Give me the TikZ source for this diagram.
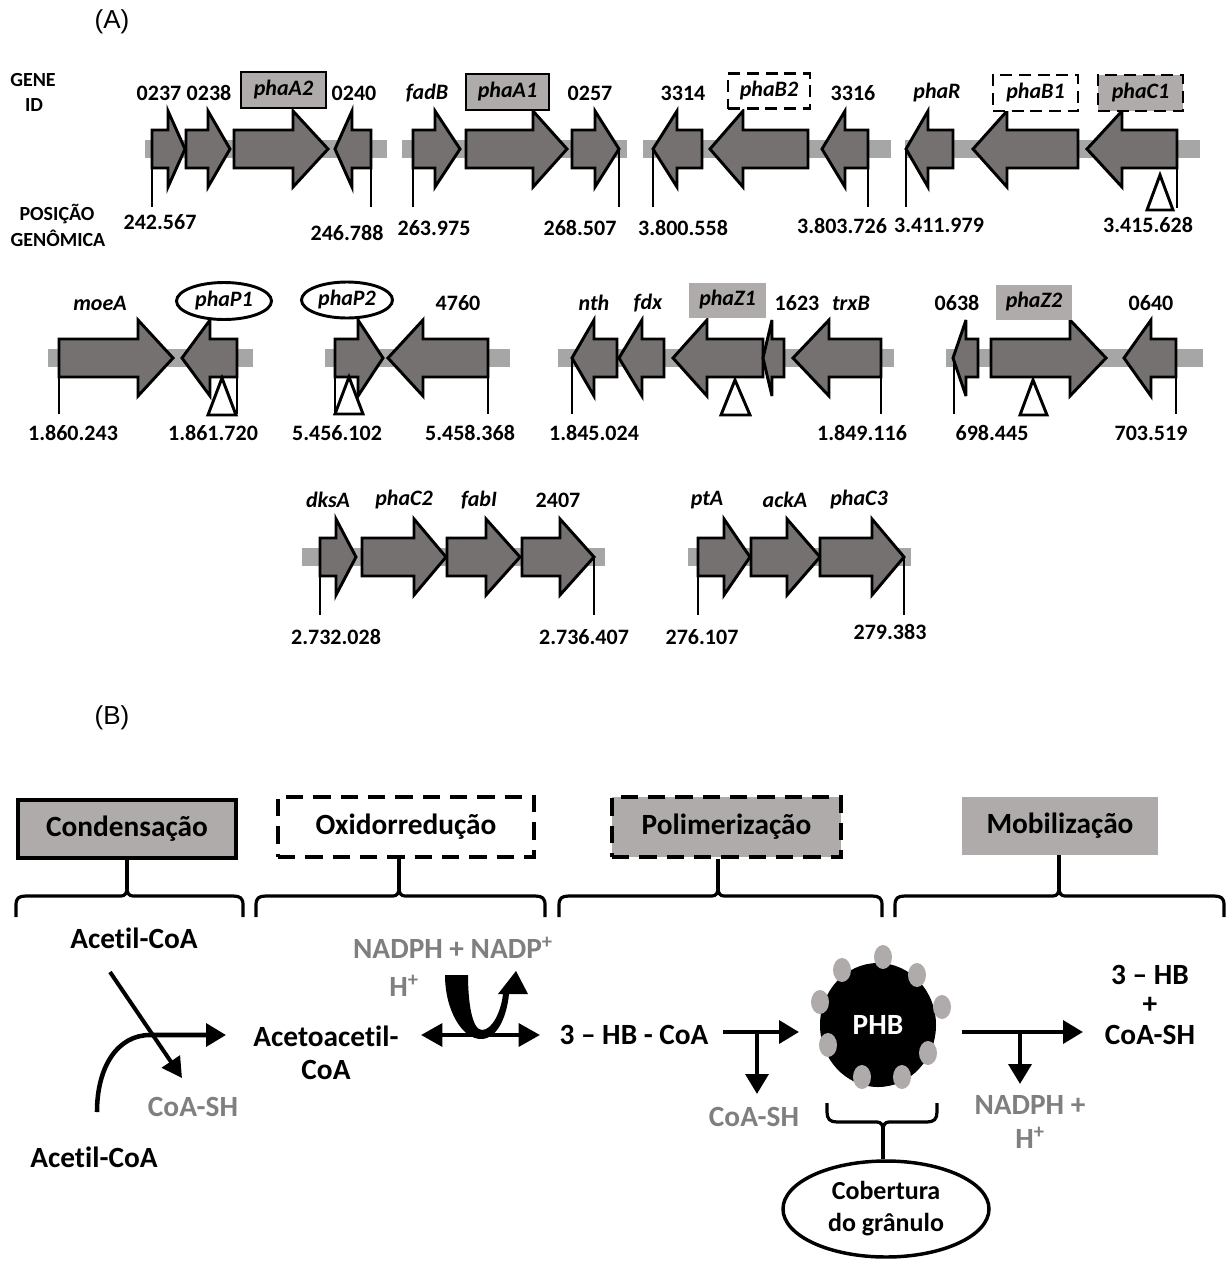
\documentclass[tikz,border=0pt]{standalone}
\usepackage{fontspec}
\setmainfont{Carlito}[RawFeature={-liga;-clig}]
\newfontfamily\arialf{Liberation Sans}
\usetikzlibrary{arrows.meta,shapes.geometric}
\definecolor{genefill}{HTML}{767171}
\definecolor{barcol}{HTML}{A6A6A6}
\definecolor{boxgray}{HTML}{AFABAB}
\definecolor{txtgray}{HTML}{7F7F7F}
\newcommand{\geneR}[4]{\draw[genearrow] (#1,{#4-19}) -- (#2,{#4-19}) -- (#2,{#4-38}) -- (#3,#4) -- (#2,{#4+38}) -- (#2,{#4+19}) -- (#1,{#4+19}) -- cycle;}
\newcommand{\geneL}[4]{\draw[genearrow] (#1,#4) -- (#2,{#4-38}) -- (#2,{#4-19}) -- (#3,{#4-19}) -- (#3,{#4+19}) -- (#2,{#4+19}) -- (#2,{#4+38}) -- cycle;}
\newcommand{\topbrace}[4]{%
  \coordinate (tmpc) at (#2,889);
  \draw[bracel] (tmpc |- #4.south) -- (tmpc);
  \draw[bracel] (#1,917) -- (#1,905) .. controls (#1,898) and ({#1+3},896) .. ({#1+10},896) -- ({#2-6},896) .. controls ({#2-2},896) and (#2,893) .. (#2,888) .. controls (#2,893) and ({#2+2},896) .. ({#2+6},896) -- ({#3-10},896) .. controls ({#3-3},896) and (#3,898) .. (#3,905) -- (#3,917);}
\begin{document}
\begin{tikzpicture}[x=0.75pt,y=-0.75pt,
  genearrow/.style={draw=black, fill=genefill, line width=2.2pt, line join=miter, miter limit=5},
  posline/.style={line width=2.2pt},
  tri/.style={draw=black, fill=white, line width=2.2pt, line join=miter},
  lab/.style={inner sep=0pt, font=\fontsize{16.5}{19}\selectfont\bfseries},
  glab/.style={inner sep=0pt, font=\fontsize{16.5}{19}\selectfont\bfseries\itshape},
  side/.style={inner sep=0pt, font=\fontsize{15}{18}\selectfont\bfseries},
  psz/.style 2 args={minimum width=#1*0.75pt, minimum height=#2*0.75pt},
  boxsolid/.style={glab, draw=black, fill=boxgray, line width=2.2pt},
  boxdash/.style={glab, draw=black, fill=white, line width=2.2pt, dash pattern=on 9pt off 5pt},
  boxdashg/.style={glab, draw=black, fill=boxgray, line width=2.2pt, dash pattern=on 9pt off 5pt},
  boxplain/.style={glab, fill=boxgray},
  ell/.style={glab, ellipse, draw=black, fill=white, line width=2.2pt},
  bt/.style={inner sep=0pt, font=\fontsize{22}{26}\selectfont\bfseries},
  gt/.style={bt, text=txtgray},
  bracel/.style={line width=2.4pt},
  arr/.style={line width=3.4pt, -{Triangle[length=15pt,width=17pt]}},
  arrthin/.style={line width=3pt, -{Triangle[length=15pt,width=16pt]}},
  darr/.style={line width=3.2pt, {Triangle[length=16pt,width=17pt]}-{Triangle[length=16pt,width=17pt]}},
]
\useasboundingbox (0,0) rectangle (1227,1261);

% ---------------- (A) ----------------
\node[inner sep=0, font=\arialf\fontsize{19.5}{22}\selectfont] (labA) at (112,22) {(A)};
\node[side] (gene) at (33,80) {GENE};
\node[side] (id) at (34,105) {ID};
\node[side] (pos) at (57,214) {POSIÇÃO};
\node[side] (gen) at (58,238) {GENÔMICA};

% bars
\fill[barcol] (145,140) rectangle (387,158);
\fill[barcol] (402,140) rectangle (627,158);
\fill[barcol] (643,140) rectangle (891,158);
\fill[barcol] (905,140) rectangle (1200,158);
\fill[barcol] (48,349) rectangle (253,367);
\fill[barcol] (325,349) rectangle (510,367);
\fill[barcol] (558,349) rectangle (894,367);
\fill[barcol] (946,349) rectangle (1203,367);
\fill[barcol] (302,548) rectangle (605,566);
\fill[barcol] (688,548) rectangle (911,566);

% row 1 arrows
\geneR{152}{168}{185}{149}
\geneR{186}{208}{230}{149}
\geneR{234}{293}{328}{149}
\geneL{335}{352}{371}{149}
\geneR{413}{435}{460}{149}
\geneR{466}{533}{567}{149}
\geneR{572}{595}{619}{149}
\geneL{653}{677}{702}{149}
\geneL{710}{743}{808}{149}
\geneL{822}{845}{868}{149}
\geneL{906}{928}{953}{149}
\geneL{973}{1007}{1078}{149}
\geneL{1087}{1122}{1177}{149}
% row 2 arrows
\geneR{59}{138}{173}{358}
\geneL{182}{210}{237}{358}
\geneR{335}{358}{383}{358}
\geneL{388}{423}{488}{358}
\geneL{572}{594}{617}{358}
\geneL{619}{642}{664}{358}
\geneL{673}{707}{763}{358}
\geneL{763}{772}{784}{358}
\geneL{793}{829}{881}{358}
\geneL{953}{966}{978}{358}
\geneR{991}{1070}{1106}{358}
\geneL{1124}{1151}{1176}{358}
% row 3 arrows
\geneR{320}{336}{356}{557}
\geneR{362}{414}{446}{557}
\geneR{447}{486}{520}{557}
\geneR{522}{560}{594}{557}
\geneR{698}{724}{750}{557}
\geneR{751}{787}{820}{557}
\geneR{820}{872}{904}{557}

% position lines
\foreach \x in {152,371,413,619,653,868,906}{\draw[posline] (\x,149) -- (\x,207);}
\draw[posline] (1177,130) -- (1177,208);
\foreach \x in {59,237,335,488,572,881,954,1176}{\draw[posline] (\x,358) -- (\x,414);}
\foreach \x in {320,594,698,904}{\draw[posline] (\x,557) -- (\x,615);}

% triangles
\draw[tri] (1160,175) -- (1173,210) -- (1147,210) -- cycle;
\draw[tri] (222,378) -- (236,415) -- (208,415) -- cycle;
\draw[tri] (349,377) -- (363,414) -- (335,414) -- cycle;
\draw[tri] (735,380) -- (750,415) -- (721,415) -- cycle;
\draw[tri] (1033,380) -- (1047,415) -- (1020,415) -- cycle;

% row 1 labels
\node[lab] (g0237) at (159,93) {0237};
\node[lab] (g0238) at (209,93) {0238};
\node[boxsolid, psz={85}{36}] (phaA2) at (283.5,90) {phaA2};
\node[lab] (g0240) at (354,93) {0240};
\node[glab] (fadB) at (427,93) {fadB};
\node[boxsolid, psz={83}{36}] (phaA1) at (507.5,92) {phaA1};
\node[lab] (g0257) at (590,93) {0257};
\node[lab] (g3314) at (683,93) {3314};
\node[boxdash, psz={82}{35}] (phaB2) at (769,91) {phaB2};
\node[lab] (g3316) at (853,93) {3316};
\node[glab] (phaR) at (937,93) {phaR};
\node[boxdash, psz={85}{36}] (phaB1) at (1035.5,93) {phaB1};
\node[boxdashg, psz={85}{36}] (phaC1) at (1140.5,93) {phaC1};
% row 1 numbers
\node[lab] (n1) at (160,222) {242.567};
\node[lab] (n2) at (347,233) {246.788};
\node[lab] (n3) at (434,228) {263.975};
\node[lab] (n4) at (580,228) {268.507};
\node[lab] (n5) at (683,228) {3.800.558};
\node[lab] (n6) at (842,226) {3.803.726};
\node[lab] (n7) at (939,225) {3.411.979};
\node[lab] (n8) at (1148,225) {3.415.628};

% row 2 labels
\node[glab] (moeA) at (100,303) {moeA};
\node[ell, psz={95}{37}] (phaP1) at (224,301) {phaP1};
\node[ell, psz={91}{36}] (phaP2) at (347,300) {phaP2};
\node[lab] (g4760) at (458,303) {4760};
\node[glab] (nth) at (594,303) {nth};
\node[glab] (fdx) at (648,303) {fdx};
\node[boxplain, psz={77}{35}] (phaZ1) at (727.5,300) {phaZ1};
\node[lab] (g1623) at (797,303) {1623};
\node[glab] (trxB) at (851,303) {trxB};
\node[lab] (g0638) at (957,303) {0638};
\node[boxplain, psz={76}{35}] (phaZ2) at (1034,302) {phaZ2};
\node[lab] (g0640) at (1151,303) {0640};
% row 2 numbers
\node[lab] (m1) at (73,433) {1.860.243};
\node[lab] (m2) at (213,433) {1.861.720};
\node[lab] (m3) at (337,433) {5.456.102};
\node[lab] (m4) at (470,433) {5.458.368};
\node[lab] (m5) at (594,433) {1.845.024};
\node[lab] (m6) at (862,433) {1.849.116};
\node[lab] (m7) at (992,433) {698.445};
\node[lab] (m8) at (1151,433) {703.519};

% row 3 labels
\node[glab] (dksA) at (328,500) {dksA};
\node[glab] (phaC2) at (404,500) {phaC2};
\node[glab] (fabI) at (479,500) {fabI};
\node[lab] (g2407) at (558,500) {2407};
\node[glab] (ptA) at (707,500) {ptA};
\node[glab] (ackA) at (785,500) {ackA};
\node[glab] (phaC3) at (859,500) {phaC3};
\node[lab] (k1) at (336,637) {2.732.028};
\node[lab] (k2) at (584,637) {2.736.407};
\node[lab] (k3) at (702,637) {276.107};
\node[lab] (k4) at (890,632) {279.383};

% ---------------- (B) ----------------
\node[inner sep=0, font=\arialf\fontsize{19.5}{22}\selectfont] (labB) at (112,718) {(B)};
\node[bt, draw=black, fill=boxgray, line width=3pt, psz={218}{58}] (cond) at (127,829) {Condensação};
\node[bt, draw=black, fill=white, line width=3pt, dash pattern=on 13pt off 7.5pt, psz={256}{60}] (oxid) at (406,827) {Oxidorredução};
\node[bt, draw=black, fill=boxgray, line width=3pt, dash pattern=on 13pt off 7.5pt, psz={229}{60}] (poli) at (726.5,827) {Polimerização};
\node[bt, fill=boxgray, psz={196}{58}] (mobi) at (1060,826) {Mobilização};

\topbrace{16}{127}{243}{cond}
\topbrace{256}{399}{545}{oxid}
\topbrace{559}{718}{882}{poli}
\topbrace{895}{1059}{1224}{mobi}

% texts
\node[bt] (ac1) at (134,938) {Acetil-CoA};
\node[bt] (ac2) at (94,1157) {Acetil-CoA};
\node[gt] (cs1) at (193,1107) {CoA-SH};
\node[bt] (aca1) at (326,1036) {Acetoacetil-};
\node[bt] (aca2) at (326,1070) {CoA};
\node[gt] (nadp) at (453,948) {NADPH + NADP\textsuperscript{+}};
\node[gt] (hp1) at (404,986) {H\textsuperscript{+}};
\node[bt] (hb) at (634,1035) {3 – HB - CoA};
\node[gt] (cs2) at (754,1117) {CoA-SH};
\node[gt] (nadph2) at (1030,1105) {NADPH +};
\node[gt] (hp2) at (1030,1138) {H\textsuperscript{+}};
\node[bt] (hb3) at (1150,975) {3 – HB};
\node[bt] (plus) at (1150,1005) {+};
\node[bt] (cs3) at (1150,1035) {CoA-SH};

% condensation arrows
\coordinate (s1) at (110,972);
\coordinate (t1) at (182,1078);
\draw[arrthin] (s1) -- (t1);
\coordinate (c0) at (97,1112);
\coordinate (c1) at (226,1035);
\draw[arr] (c0) .. controls (97,1066) and (118,1035) .. (150,1035) -- (c1);

% oxidoreduction
\coordinate (d0) at (421,1035);
\coordinate (d1) at (540,1035);
\draw[darr] (d0) -- (d1);
\fill[black] (445,975) .. controls (445,1010) and (462,1039) .. (481,1039) .. controls (498,1039) and (507,1015) .. (509,994)
  -- (528,994) -- (516,971) -- (498,994) -- (503,994)
  .. controls (501,1012) and (492,1030) .. (482,1030) .. controls (472,1030) and (468,1002) .. (468,975) -- cycle;

% PHB granule
\node[ellipse, fill=black, inner sep=0, psz={116}{124}, text=white, font=\fontsize{22}{26}\selectfont\bfseries] (phb) at (878,1025) {PHB};
\foreach \p in {(883,957),(842,970),(917,975),(820,1002),(942,1007),(828,1045),(928,1053),(862,1077),(902,1077)}
  {\fill[boxgray] \p ellipse [x radius=9, y radius=12];}

% polymerisation
\coordinate (p0) at (723,1032);
\coordinate (p1) at (799,1032);
\draw[arr] (p0) -- (p1);
\coordinate (p2) at (757,1032);
\coordinate (p3) at (757,1094);
\draw[arr] (p2) -- (p3);

% mobilisation
\coordinate (q0) at (962,1032);
\coordinate (q1) at (1083,1032);
\draw[arr] (q0) -- (q1);
\coordinate (q2) at (1020,1032);
\coordinate (q3) at (1020,1084);
\draw[arr] (q2) -- (q3);

% granule cover
\node[bt, ellipse, draw=black, fill=white, line width=2.6pt, psz={206}{96}, align=center, font=\fontsize{19.5}{24}\selectfont\bfseries] (cob) at (886,1209) {Cobertura\\do grânulo};
\draw[bracel] (827,1103) -- (827,1112) .. controls (827,1119) and (830,1122) .. (837,1122) -- (877,1122) .. controls (881,1122) and (883,1125) .. (883,1130) .. controls (883,1125) and (885,1122) .. (889,1122) -- (927,1122) .. controls (934,1122) and (937,1119) .. (937,1112) -- (937,1103);
\coordinate (bc) at (883,1128);
\draw[bracel] (bc) -- (bc |- cob.north);
\end{tikzpicture}
\end{document}
